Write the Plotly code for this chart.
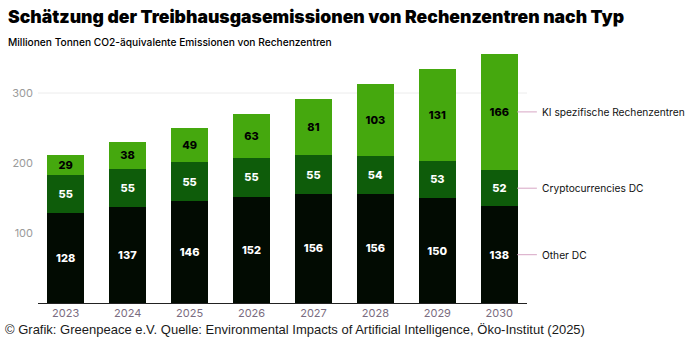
import plotly.graph_objects as go

years = ["2023", "2024", "2025", "2026", "2027", "2028", "2029", "2030"]
other_dc = [128, 137, 146, 152, 156, 156, 150, 138]
crypto_dc = [55, 55, 55, 55, 55, 54, 53, 52]
ki_dc = [29, 38, 49, 63, 81, 103, 131, 166]

series_names = ["Other DC", "Cryptocurrencies DC", "KI spezifische Rechenzentren"]
series_values = [other_dc, crypto_dc, ki_dc]
series_colors = ["#020b02", "#0e5c0a", "#45a80e"]
label_colors = ["#ffffff", "#ffffff", "#000000"]

y_ticks = [100, 200, 300]

fig = go.Figure()
for name, vals, col, tcol in zip(series_names, series_values, series_colors, label_colors):
    fig.add_trace(go.Bar(
        x=list(range(len(years))),
        y=vals,
        name=name,
        marker=dict(color=col, line=dict(width=0)),
        text=[str(v) for v in vals],
        textposition="inside",
        insidetextanchor="middle",
        textangle=0,
        textfont=dict(family="Inter", size=11, color=tcol, weight=800),
        constraintext="none",
        width=0.606,
        showlegend=False,
        hoverinfo="skip",
    ))

# Series labels beside the last bar, connected by short leader lines
last = len(years) - 1
base = 0
for name, vals in zip(series_names, series_values):
    mid = base + vals[last] / 2
    base += vals[last]
    fig.add_shape(type="line", xref="paper", yref="y",
                  x0=0.98, x1=1.0202, y0=mid, y1=mid,
                  line=dict(color="#d7a6c4", width=1))
    fig.add_annotation(xref="paper", yref="y", x=1.027, y=mid,
                       text=name, showarrow=False, xanchor="left",
                       yanchor="middle",
                       font=dict(family="Inter", size=10.2, color="#111111"))

# Light reference line at the top tick
fig.add_shape(type="line", xref="paper", yref="y", x0=0, x1=1,
              y0=y_ticks[-1], y1=y_ticks[-1], layer="below",
              line=dict(color="#ececec", width=1))

fig.update_layout(
    width=690, height=340,
    margin=dict(l=32, r=163, t=50.6, b=37),
    paper_bgcolor="white", plot_bgcolor="white",
    barmode="stack",
    bargap=0.39,
    title=dict(
        text="Schätzung der Treibhausgasemissionen von Rechenzentren nach Typ",
        x=0.0116, xanchor="left", y=0.95, yanchor="middle",
        font=dict(family="Inter", size=17.6, color="#000000", weight=900),
    ),
    xaxis=dict(
        range=[-0.447, 7.447],
        tickmode="array",
        tickvals=list(range(len(years))),
        ticktext=years,
        showgrid=False, zeroline=False,
        showline=True, linecolor="#222222", linewidth=1,
        ticks="",
        tickfont=dict(family="Inter", size=11, color="#7a6c80"),
    ),
    yaxis=dict(
        range=[0, 360],
        tickvals=y_ticks,
        showgrid=False, zeroline=False, showline=False,
        ticks="",
        ticklabelstandoff=4,
        tickfont=dict(family="Inter", size=11, color="#9a9a9a"),
    ),
)

fig.add_annotation(xref="paper", yref="paper", x=-0.0646, y=1.0,
                   yshift=9, xanchor="left", yanchor="middle",
                   text="Millionen Tonnen CO2-äquivalente Emissionen von Rechenzentren",
                   showarrow=False,
                   font=dict(family="Inter", size=10.2, color="#000000", weight=500))

fig.add_annotation(xref="paper", yref="paper", x=-0.0707, y=0,
                   yshift=-26, xanchor="left", yanchor="middle",
                   text="© Grafik: Greenpeace e.V. Quelle: Environmental Impacts of Artificial Intelligence, Öko-Institut (2025)",
                   showarrow=False,
                   font=dict(family="Liberation Sans", size=13, color="#1a1a1a"))

fig.write_html("out.html")
